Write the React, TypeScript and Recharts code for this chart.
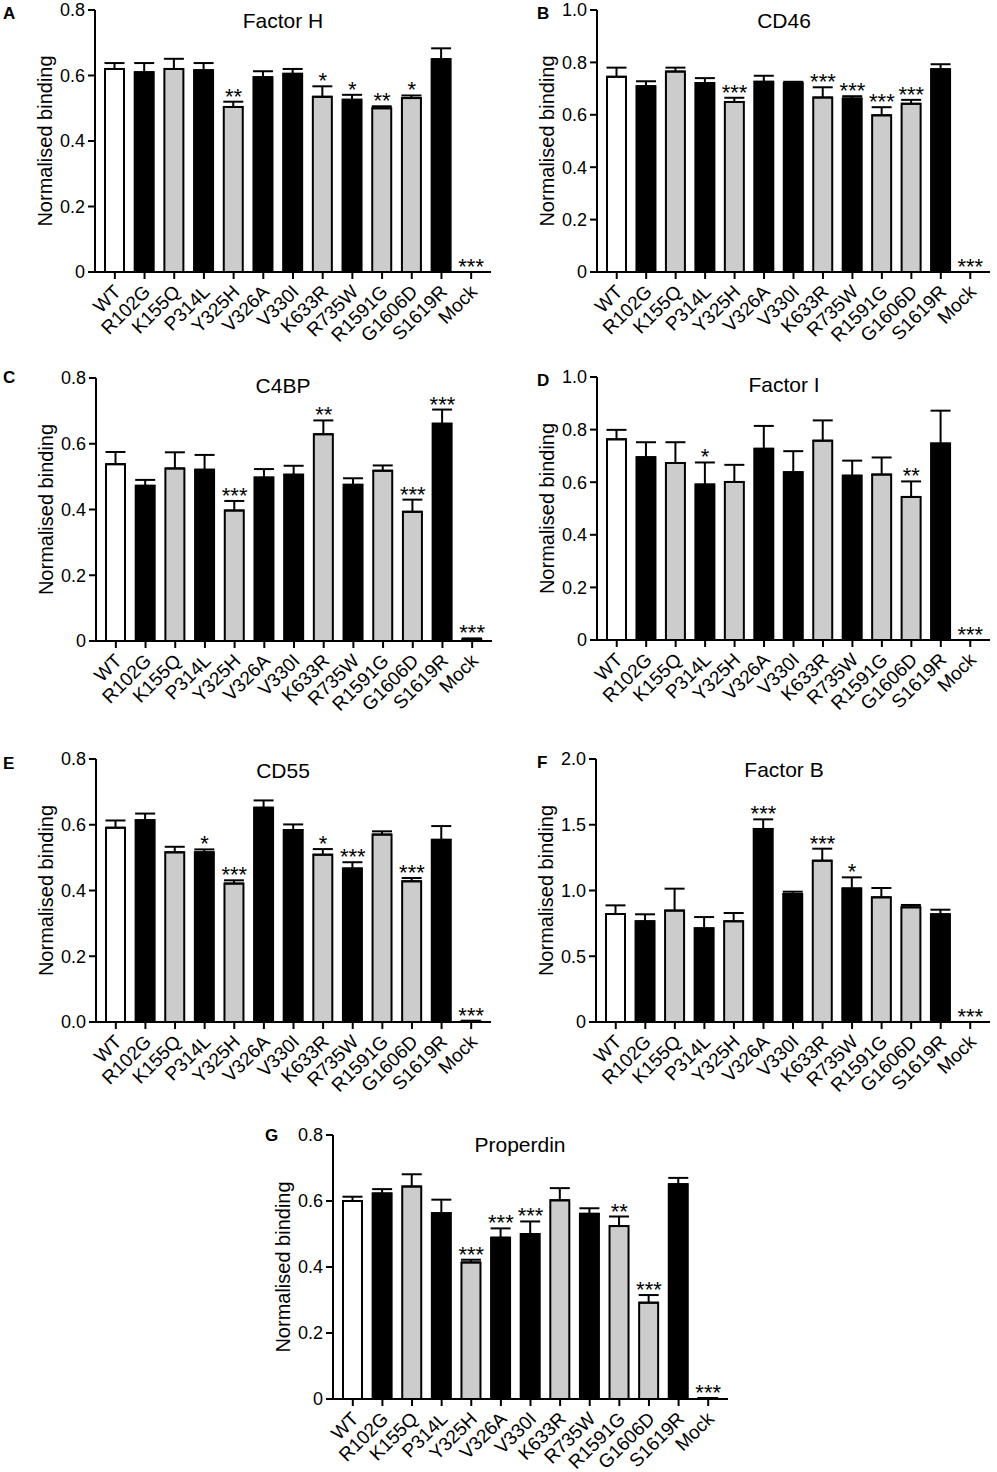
import React from "react";
import {
  ComposedChart,
  Bar,
  Cell,
  ErrorBar,
  Line,
  LabelList,
  XAxis,
  YAxis,
  Label,
} from "recharts";

const FONT = "'Liberation Sans', Arial, Helvetica, sans-serif";

const MUTANTS = [
  "WT", "R102G", "K155Q", "P314L", "Y325H", "V326A", "V330I",
  "K633R", "R735W", "R1591G", "G1606D", "S1619R", "Mock",
];

const GREY = "#cccccc";
const BAR_FILLS = [
  "#ffffff", "#000000", GREY, "#000000", GREY, "#000000", "#000000",
  GREY, "#000000", GREY, GREY, "#000000", "#000000",
];

// A - Factor H
const FH_MEAN = [0.62, 0.61, 0.62, 0.616, 0.504, 0.595, 0.605, 0.535, 0.526, 0.5, 0.531, 0.65, 0];
const FH_SEM = [0.018, 0.028, 0.031, 0.022, 0.016, 0.018, 0.015, 0.032, 0.015, 0.006, 0.008, 0.033, 0];
const FH_SIG = ["", "", "", "", "**", "", "", "*", "*", "**", "*", "", "***"];

// B - CD46
const CD46_MEAN = [0.745, 0.709, 0.765, 0.721, 0.649, 0.726, 0.72, 0.666, 0.662, 0.598, 0.642, 0.774, 0];
const CD46_SEM = [0.035, 0.019, 0.015, 0.019, 0.016, 0.023, 0.006, 0.039, 0.009, 0.031, 0.015, 0.019, 0];
const CD46_SIG = ["", "", "", "", "***", "", "", "***", "***", "***", "***", "", "***"];

// C - C4BP
const C4BP_MEAN = [0.538, 0.472, 0.525, 0.521, 0.397, 0.497, 0.506, 0.629, 0.475, 0.518, 0.393, 0.661, 0.005];
const C4BP_SEM = [0.037, 0.018, 0.049, 0.045, 0.029, 0.026, 0.027, 0.042, 0.02, 0.016, 0.037, 0.043, 0.003];
const C4BP_SIG = ["", "", "", "", "***", "", "", "**", "", "", "***", "***", "***"];

// D - Factor I
const FI_MEAN = [0.763, 0.695, 0.673, 0.591, 0.601, 0.727, 0.638, 0.758, 0.625, 0.629, 0.544, 0.747, 0];
const FI_SEM = [0.036, 0.057, 0.079, 0.084, 0.065, 0.087, 0.08, 0.077, 0.057, 0.065, 0.059, 0.125, 0];
const FI_SIG = ["", "", "", "*", "", "", "", "", "", "", "**", "", "***"];

// E - CD55
const CD55_MEAN = [0.591, 0.614, 0.516, 0.516, 0.421, 0.652, 0.584, 0.509, 0.467, 0.57, 0.428, 0.554, 0.002];
const CD55_SEM = [0.022, 0.02, 0.017, 0.009, 0.01, 0.022, 0.017, 0.017, 0.019, 0.01, 0.01, 0.042, 0.002];
const CD55_SIG = ["", "", "", "*", "***", "", "", "*", "***", "", "***", "", "***"];

// F - Factor B
const FB_MEAN = [0.821, 0.766, 0.847, 0.712, 0.766, 1.468, 0.973, 1.227, 1.016, 0.948, 0.872, 0.819, 0];
const FB_SEM = [0.066, 0.053, 0.167, 0.086, 0.063, 0.073, 0.018, 0.091, 0.084, 0.071, 0.018, 0.035, 0];
const FB_SIG = ["", "", "", "", "", "***", "", "***", "*", "", "", "", "***"];

// G - Properdin
const PROP_MEAN = [0.6, 0.623, 0.644, 0.563, 0.414, 0.489, 0.5, 0.602, 0.561, 0.524, 0.292, 0.651, 0.002];
const PROP_SEM = [0.013, 0.013, 0.037, 0.041, 0.008, 0.028, 0.038, 0.037, 0.017, 0.029, 0.023, 0.019, 0.001];
const PROP_SIG = ["", "", "", "", "***", "***", "***", "", "", "**", "***", "", "***"];

const TICKS_08 = [0, 0.2, 0.4, 0.6, 0.8];
const LABELS_08 = ["0", "0.2", "0.4", "0.6", "0.8"];
const LABELS_08_DEC = ["0.0", "0.2", "0.4", "0.6", "0.8"];
const TICKS_10 = [0, 0.2, 0.4, 0.6, 0.8, 1.0];
const LABELS_10 = ["0", "0.2", "0.4", "0.6", "0.8", "1.0"];
const TICKS_20 = [0, 0.5, 1.0, 1.5, 2.0];
const LABELS_20 = ["0", "0.5", "1.0", "1.5", "2.0"];

const MutantTick = (props: any) => {
  const { x, y, payload } = props;
  const px = x + 7;
  const py = y + 12;
  return (
    <text
      x={px}
      y={py}
      transform={`rotate(-45 ${px} ${py})`}
      textAnchor="end"
      fontSize={19}
      fontFamily={FONT}
      fill="#000"
    >
      {payload.value}
    </text>
  );
};

const StarLabel = (props: any) => {
  const { x, y, value } = props;
  if (!value) return null;
  return (
    <text x={x} y={y + 2} textAnchor="middle" fontSize={22} fontFamily={FONT} fill="#000">
      {value}
    </text>
  );
};

type Box = {
  left: number;
  top: number;
  width: number;
  axisX: number;
  plotTop: number;
  zeroY: number;
  rightX: number;
};

function Panel({
  mean,
  sem,
  sig,
  ticks,
  tickLabels,
  box,
}: {
  mean: number[];
  sem: number[];
  sig: string[];
  ticks: number[];
  tickLabels: string[];
  box: Box;
}) {
  const data = MUTANTS.map((name, i) => ({
    name,
    mean: mean[i],
    err: [0, sem[i]],
    top: mean[i] + sem[i],
    sig: sig[i],
  }));
  const xAxisHeight = 88;
  const height = box.zeroY + xAxisHeight - box.top;
  const yAxisWidth = box.axisX - box.left;
  return (
    <div style={{ position: "absolute", left: box.left, top: box.top, width: box.width, height }}>
      <ComposedChart
        width={box.width}
        height={height}
        data={data}
        margin={{ top: box.plotTop - box.top, right: box.left + box.width - box.rightX, bottom: 0, left: 0 }}
      >
        <XAxis
          dataKey="name"
          height={xAxisHeight}
          interval={0}
          padding={{ left: 5, right: 5 }}
          tick={<MutantTick />}
          tickSize={7}
          tickMargin={2}
          axisLine={{ stroke: "#000", strokeWidth: 2 }}
          tickLine={{ stroke: "#000", strokeWidth: 2 }}
        />
        <YAxis
          width={yAxisWidth}
          domain={[0, ticks[ticks.length - 1]]}
          ticks={ticks}
          interval={0}
          tickFormatter={(v: number) => tickLabels[ticks.indexOf(v)]}
          tick={{ fontSize: 18, fill: "#000", fontFamily: FONT }}
          tickSize={7}
          tickMargin={3}
          axisLine={{ stroke: "#000", strokeWidth: 2 }}
          tickLine={{ stroke: "#000", strokeWidth: 2 }}
        >
          <Label
            value="Normalised binding"
            angle={-90}
            position="insideLeft"
            offset={yAxisWidth - 50}
            style={{ textAnchor: "middle", fontSize: 20, fontFamily: FONT, fill: "#000" }}
          />
        </YAxis>
        <Bar dataKey="mean" barSize={19} stroke="#000" strokeWidth={2} isAnimationActive={false}>
          {data.map((d, i) => (
            <Cell key={d.name} fill={BAR_FILLS[i]} />
          ))}
          <ErrorBar dataKey="err" width={10} strokeWidth={2} stroke="#000" direction="y" isAnimationActive={false} />
        </Bar>
        <Line dataKey="top" stroke="none" dot={false} activeDot={false} isAnimationActive={false}>
          <LabelList dataKey="sig" content={StarLabel} />
        </Line>
      </ComposedChart>
    </div>
  );
}

const HEADINGS = [
  { letter: "A", lx: 3, ly: 19, title: "Factor H", tx: 283, ty: 28 },
  { letter: "B", lx: 537, ly: 19, title: "CD46", tx: 784, ty: 28 },
  { letter: "C", lx: 3, ly: 383, title: "C4BP", tx: 283, ty: 393 },
  { letter: "D", lx: 537, ly: 386, title: "Factor I", tx: 784, ty: 392 },
  { letter: "E", lx: 3, ly: 769, title: "CD55", tx: 283, ty: 778 },
  { letter: "F", lx: 537, ly: 768, title: "Factor B", tx: 784, ty: 777 },
  { letter: "G", lx: 265, ly: 1141, title: "Properdin", tx: 520, ty: 1152 },
];

export default function App() {
  return (
    <div style={{ position: "absolute", left: 0, top: 0, width: 997, height: 1472, background: "#fff", overflow: "hidden" }}>
      <Panel mean={FH_MEAN} sem={FH_SEM} sig={FH_SIG} ticks={TICKS_08} tickLabels={LABELS_08}
        box={{ left: 0, top: 0, width: 497, axisX: 95, plotTop: 10, zeroY: 272, rightX: 491 }} />
      <Panel mean={CD46_MEAN} sem={CD46_SEM} sig={CD46_SIG} ticks={TICKS_10} tickLabels={LABELS_10}
        box={{ left: 497, top: 0, width: 500, axisX: 597, plotTop: 10, zeroY: 272, rightX: 990 }} />
      <Panel mean={C4BP_MEAN} sem={C4BP_SEM} sig={C4BP_SIG} ticks={TICKS_08} tickLabels={LABELS_08}
        box={{ left: 0, top: 365, width: 497, axisX: 96, plotTop: 378, zeroY: 641, rightX: 492 }} />
      <Panel mean={FI_MEAN} sem={FI_SEM} sig={FI_SIG} ticks={TICKS_10} tickLabels={LABELS_10}
        box={{ left: 497, top: 365, width: 500, axisX: 597, plotTop: 377, zeroY: 640, rightX: 990 }} />
      <Panel mean={CD55_MEAN} sem={CD55_SEM} sig={CD55_SIG} ticks={TICKS_08} tickLabels={LABELS_08_DEC}
        box={{ left: 0, top: 730, width: 497, axisX: 96, plotTop: 759, zeroY: 1022, rightX: 491 }} />
      <Panel mean={FB_MEAN} sem={FB_SEM} sig={FB_SIG} ticks={TICKS_20} tickLabels={LABELS_20}
        box={{ left: 497, top: 730, width: 500, axisX: 596, plotTop: 759, zeroY: 1022, rightX: 990 }} />
      <Panel mean={PROP_MEAN} sem={PROP_SEM} sig={PROP_SIG} ticks={TICKS_08} tickLabels={LABELS_08}
        box={{ left: 240, top: 1095, width: 500, axisX: 333, plotTop: 1135, zeroY: 1399, rightX: 728 }} />
      <svg width={997} height={1472} style={{ position: "absolute", left: 0, top: 0, pointerEvents: "none" }}>
        {HEADINGS.map((h) => (
          <g key={h.letter} fontFamily={FONT} fill="#000">
            <text x={h.lx} y={h.ly} fontSize={17} fontWeight="bold">{h.letter}</text>
            <text x={h.tx} y={h.ty} fontSize={21} textAnchor="middle">{h.title}</text>
          </g>
        ))}
      </svg>
    </div>
  );
}
